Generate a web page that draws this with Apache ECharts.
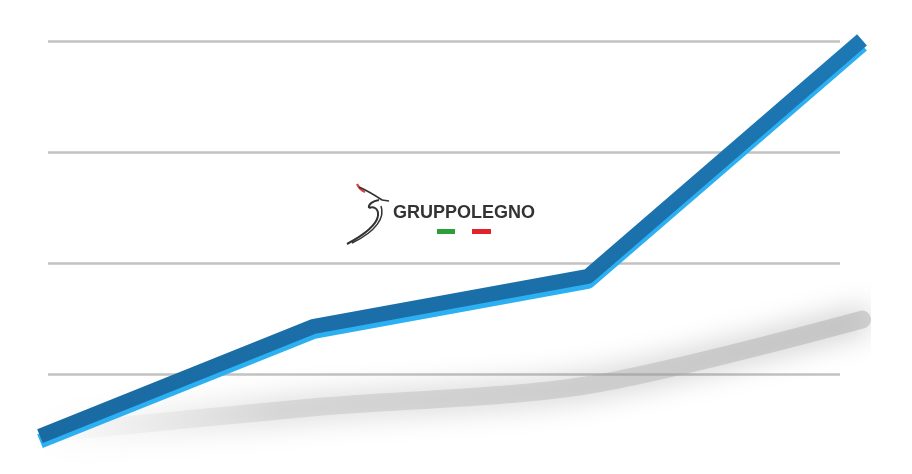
<!DOCTYPE html>
<html>
<head>
<meta charset="utf-8">
<script src="https://cdn.jsdelivr.net/npm/echarts@6/dist/echarts.min.js"></script>
<style>html,body{margin:0;padding:0;background:#fff}#c{width:912px;height:474px}</style>
</head>
<body>
<div id="c"></div>
<script>
// Data
var categories = ['P1', 'P2', 'P3', 'P4'];
var trendValues = [44, 143, 188, 401];
var shadowValues = [46, 70, 90, 149];
var yTicks = [100, 200, 300, 400];
var logoText = 'GRUPPOLEGNO';

function bz(p, color, w) {
  return { type: 'bezierCurve',
    shape: { x1: p[0], y1: p[1], cpx1: p[2], cpy1: p[3], cpx2: p[4], cpy2: p[5], x2: p[6], y2: p[7] },
    style: { stroke: color, lineWidth: w, fill: null } };
}

var chart = echarts.init(document.getElementById('c'));
chart.setOption({
  animation: false,
  backgroundColor: '#ffffff',
  grid: [
    { left: 48, right: 72, top: 41, bottom: -11, outerBoundsMode: 'none', containLabel: false },
    { left: 40, right: 50, top: 41, bottom: -11, outerBoundsMode: 'none', containLabel: false }
  ],
  xAxis: [
    { gridIndex: 0, type: 'category', data: categories, show: false, boundaryGap: false },
    { gridIndex: 1, type: 'category', data: categories, show: false, boundaryGap: false }
  ],
  yAxis: [
    { gridIndex: 0, type: 'value', min: 0, max: yTicks[yTicks.length - 1], interval: 100,
      axisLine: { show: false }, axisTick: { show: false }, axisLabel: { show: false },
      splitLine: { show: true, lineStyle: { color: '#c2c2c2', width: 2.5 } } },
    { gridIndex: 1, type: 'value', min: 0, max: yTicks[yTicks.length - 1], interval: 100,
      show: false, splitLine: { show: false } }
  ],
  series: [
    {
      type: 'line', xAxisIndex: 1, yAxisIndex: 1, data: shadowValues,
      showSymbol: false, smooth: 0.3, z: 1, silent: true, clip: false,
      lineStyle: {
        width: 18,
        color: { type: 'linear', x: 0, y: 0, x2: 1, y2: 0, colorStops: [
          { offset: 0, color: 'rgba(190,190,190,0)' },
          { offset: 0.3, color: 'rgba(170,170,170,0.3)' },
          { offset: 1, color: 'rgba(160,160,160,0.42)' }
        ] },
        shadowBlur: 30,
        shadowColor: 'rgba(90,90,90,1)',
        cap: 'round'
      }
    },
    {
      type: 'line', xAxisIndex: 1, yAxisIndex: 1, data: trendValues,
      showSymbol: false, z: 3, silent: true, clip: false,
      lineStyle: {
        width: 15,
        color: { type: 'linear', x: 0, y: 0, x2: 0, y2: 1, colorStops: [
          { offset: 0, color: '#1d78b4' },
          { offset: 1, color: '#1a6aa2' }
        ] },
        shadowColor: '#2cb0f2',
        shadowOffsetY: 5,
        shadowBlur: 0,
        join: 'round',
        cap: 'butt'
      }
    }
  ],
  graphic: [
    {
      type: 'group', x: 342, y: 180, z: 10,
      children: [
        bz([15, 4, 17, 8, 20, 11, 23, 12], '#e03a3a', 2.2),
        bz([17, 7, 26, 11, 34, 16, 40, 20], '#333', 1.8),
        { type: 'line', shape: { x1: 40, y1: 20, x2: 47, y2: 21 }, style: { stroke: '#333', lineWidth: 1.6 } },
        bz([37, 20, 31, 21, 26, 24, 27, 28], '#333', 2),
        bz([27, 28, 31, 26, 37, 28, 36, 36], '#333', 2),
        bz([36, 36, 34, 47, 18, 57, 5, 64], '#333', 2),
        bz([39, 26, 43, 37, 35, 51, 10, 63], '#333', 1.5),
        { type: 'text', x: 51, y: 24,
          style: { text: logoText, fill: '#333333', font: 'bold 18px "Liberation Sans", Arial, sans-serif' } },
        { type: 'rect', shape: { x: 95, y: 49, width: 18, height: 5 }, style: { fill: '#2e9e3a' } },
        { type: 'rect', shape: { x: 130, y: 49, width: 19, height: 5 }, style: { fill: '#e0242a' } }
      ]
    }
  ]
});
</script>
</body>
</html>
